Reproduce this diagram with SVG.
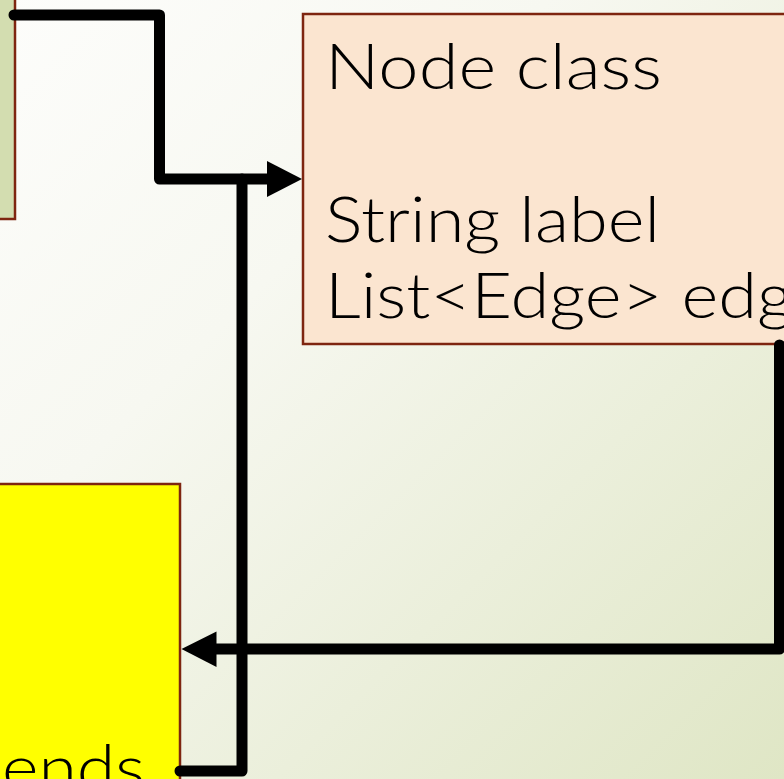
<svg xmlns="http://www.w3.org/2000/svg" width="784" height="779" viewBox="0 0 784 779">
  <defs>
    <linearGradient id="bg" x1="0" y1="0" x2="1" y2="1">
      <stop offset="0" stop-color="#fdfdfb"/>
      <stop offset="0.35" stop-color="#f7f8f1"/>
      <stop offset="1" stop-color="#dfe6c5"/>
    </linearGradient>
  </defs>
  <style>
    .box { stroke: #7e2510; stroke-width: 2.5; }
    .txt { font-family: Lato, "Liberation Sans", Arial, sans-serif; font-weight: 300; font-size: 64px; fill: #000; }
    .conn { fill: none; stroke: #000; stroke-width: 11; stroke-linecap: round; stroke-linejoin: round; }
  </style>
  <rect x="0" y="0" width="784" height="779" fill="url(#bg)"/>

  <g id="node-green">
    <rect class="box" x="-20" y="-20" width="35" height="239" fill="#d3ddb0"/>
  </g>

  <g id="node-class">
    <rect class="box" x="303" y="14" width="500" height="330" fill="#fbe5d0"/>
    <text class="txt" x="325" y="89" textLength="337" lengthAdjust="spacingAndGlyphs">Node class</text>
    <text class="txt" x="325" y="242" textLength="335" lengthAdjust="spacingAndGlyphs">String label</text>
    <text class="txt" x="325" y="318" textLength="468" lengthAdjust="spacingAndGlyphs">List&lt;Edge&gt; edg</text>
  </g>

  <g id="node-yellow">
    <rect class="box" x="-20" y="484" width="200" height="320" fill="#ffff00"/>
    <text class="txt" x="145" y="790" text-anchor="end" textLength="143" lengthAdjust="spacingAndGlyphs">ends</text>
  </g>

  <g id="connectors">
    <path class="conn" d="M14,15 L159.5,15 L159.5,179 L268,179" />
    <path d="M267,161 L302,179 L267,197 Z" fill="#000"/>
    <path class="conn" d="M180,771 L242,771 L242,179" />
    <path class="conn" d="M779.5,345 L779.5,649 L215,649" />
    <path d="M216.5,631.5 L181.5,649 L216.5,667 Z" fill="#000"/>
  </g>
</svg>
